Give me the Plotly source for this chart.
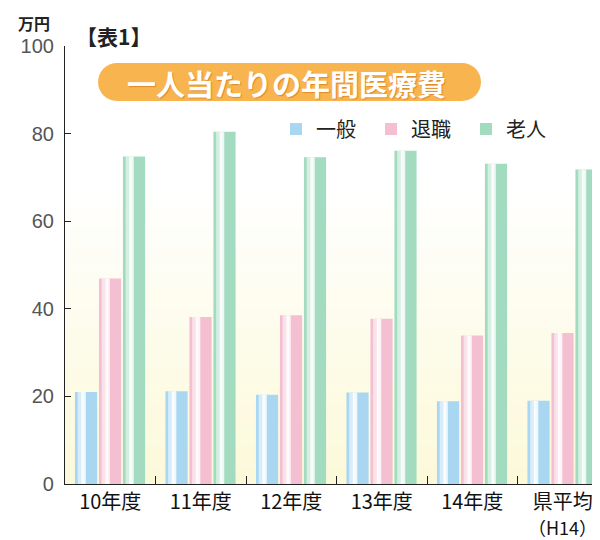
import plotly.graph_objects as go

categories = ["10年度", "11年度", "12年度", "13年度", "14年度", "県平均（H14）"]
ippan = [21.0, 21.2, 20.4, 20.9, 18.9, 19.0]
taishoku = [46.9, 38.1, 38.5, 37.7, 33.9, 34.5]
rojin = [74.8, 80.4, 74.6, 76.1, 73.1, 71.8]
series_names = ["一般", "退職", "老人"]
y_ticks = [0, 20, 40, 60, 80, 100]

W, H = 600, 540
L, R, T, B = 57, 0, 38, 64
PW, PH = W - L - R, H - T - B

def px_x(p):
    return (p - L) / PW

def px_y(p):
    return (H - B - p) / PH

# tick text: main part on the axis, parenthesised note placed below it
tick_text = [c.split("（")[0] for c in categories]
notes = [("（" + c.split("（")[1]) if "（" in c else "" for c in categories]

base_colors = ["#a9d7f2", "#f3bfd1", "#a3dbc0"]
offsets = [-0.39, -0.125, 0.14]
bw = 0.245

fig = go.Figure()
for vals, name, col, off in zip([ippan, taishoku, rojin], series_names, base_colors, offsets):
    fig.add_trace(go.Bar(x=categories, y=vals, name=name, offset=off, width=bw,
                         marker=dict(color=col, line=dict(width=0))))
for vals, name, off in zip([ippan, taishoku, rojin], series_names, offsets):
    fig.add_trace(go.Bar(x=categories, y=vals, name=name, offset=off + 0.03, width=0.07,
                         marker=dict(color="rgba(255,255,255,0.55)", line=dict(width=0)),
                         showlegend=False, hoverinfo="skip"))
    fig.add_trace(go.Bar(x=categories, y=vals, name=name, offset=off + 0.07, width=0.05,
                         marker=dict(color="rgba(255,255,255,0.8)", line=dict(width=0)),
                         showlegend=False, hoverinfo="skip"))

shapes = []
# background gradient (white at top -> pale yellow at bottom)
nb = 16
top_c = (255, 255, 255)
bot_c = (252, 249, 218)
for i in range(nb):
    t = i / (nb - 1)
    c = tuple(int(round(bot_c[k] + (top_c[k] - bot_c[k]) * t)) for k in range(3))
    shapes.append(dict(type="rect", xref="paper", yref="y", x0=0, x1=1,
                       y0=i * 72 / nb, y1=(i + 1) * 72 / nb,
                       fillcolor="rgb(%d,%d,%d)" % c, line=dict(width=0), layer="below"))

# title pill
pill_col = "#f8b44e"
shapes.append(dict(type="rect", xref="paper", yref="paper", x0=px_x(109), x1=px_x(454),
                   y0=px_y(93), y1=px_y(55), fillcolor=pill_col, line=dict(width=0), layer="above"))
shapes.append(dict(type="circle", xref="paper", yref="paper", x0=px_x(90), x1=px_x(128),
                   y0=px_y(93), y1=px_y(55), fillcolor=pill_col, line=dict(width=0), layer="above"))
shapes.append(dict(type="circle", xref="paper", yref="paper", x0=px_x(435), x1=px_x(473),
                   y0=px_y(93), y1=px_y(55), fillcolor=pill_col, line=dict(width=0), layer="above"))

annotations = [
    dict(text="<b>一人当たりの年間医療費</b>", xref="paper", yref="paper", x=px_x(278), y=px_y(75),
         showarrow=False, xanchor="center", yanchor="middle",
         font=dict(family="Noto Sans CJK JP", size=29, color="white", shadow="1px 1px 1px #e08a2a")),
    dict(text="<b>万円</b>", xref="paper", yref="paper", x=px_x(8), y=px_y(15),
         showarrow=False, xanchor="left", yanchor="middle",
         font=dict(family="Noto Sans CJK JP", size=16, color="#222")),
    dict(text="<b>【表1】</b>", xref="paper", yref="paper", x=px_x(66), y=px_y(28),
         showarrow=False, xanchor="left", yanchor="middle",
         font=dict(family="Noto Sans CJK JP", size=21, color="#222")),
]
for c, n in zip(categories, notes):
    if n:
        annotations.append(dict(text=n, xref="x", yref="paper", x=c, y=px_y(519),
                                showarrow=False, xanchor="center", yanchor="middle", borderpad=0,
                                font=dict(family="Noto Sans CJK JP", size=18, color="#111")))

fig.update_layout(
    width=W, height=H,
    margin=dict(l=L, r=R, t=T, b=B, pad=0, autoexpand=False),
    paper_bgcolor="white", plot_bgcolor="white",
    barmode="overlay",
    shapes=shapes, annotations=annotations,
    showlegend=True,
    legend=dict(orientation="h", x=px_x(268), y=px_y(121), xanchor="left", yanchor="middle",
                font=dict(family="Noto Sans CJK JP", size=20, color="#222"),
                bgcolor="rgba(0,0,0,0)", itemwidth=30, entrywidth=50, entrywidthmode="pixels"),
    font=dict(family="Noto Sans CJK JP"),
)
fig.update_xaxes(
    type="category", automargin=False, showgrid=False, showline=True, linecolor="#222", linewidth=1.2,
    ticks="inside", tickson="boundaries", ticklen=8, tickcolor="#222", tickwidth=1,
    tickmode="array", tickvals=categories, ticktext=tick_text,
    tickfont=dict(family="Noto Sans CJK JP", size=20, color="#111"),
    range=[-0.5, 5.5],
)
fig.update_yaxes(
    automargin=False,
    range=[0, 100], tickvals=y_ticks, showgrid=False, zeroline=False,
    showline=True, linecolor="#222", linewidth=1.2,
    ticks="inside", ticklen=6, tickcolor="#222",
    tickfont=dict(family="Liberation Sans", size=20, color="#555"),
    ticklabelstandoff=6,
)

fig.write_html("out.html")
